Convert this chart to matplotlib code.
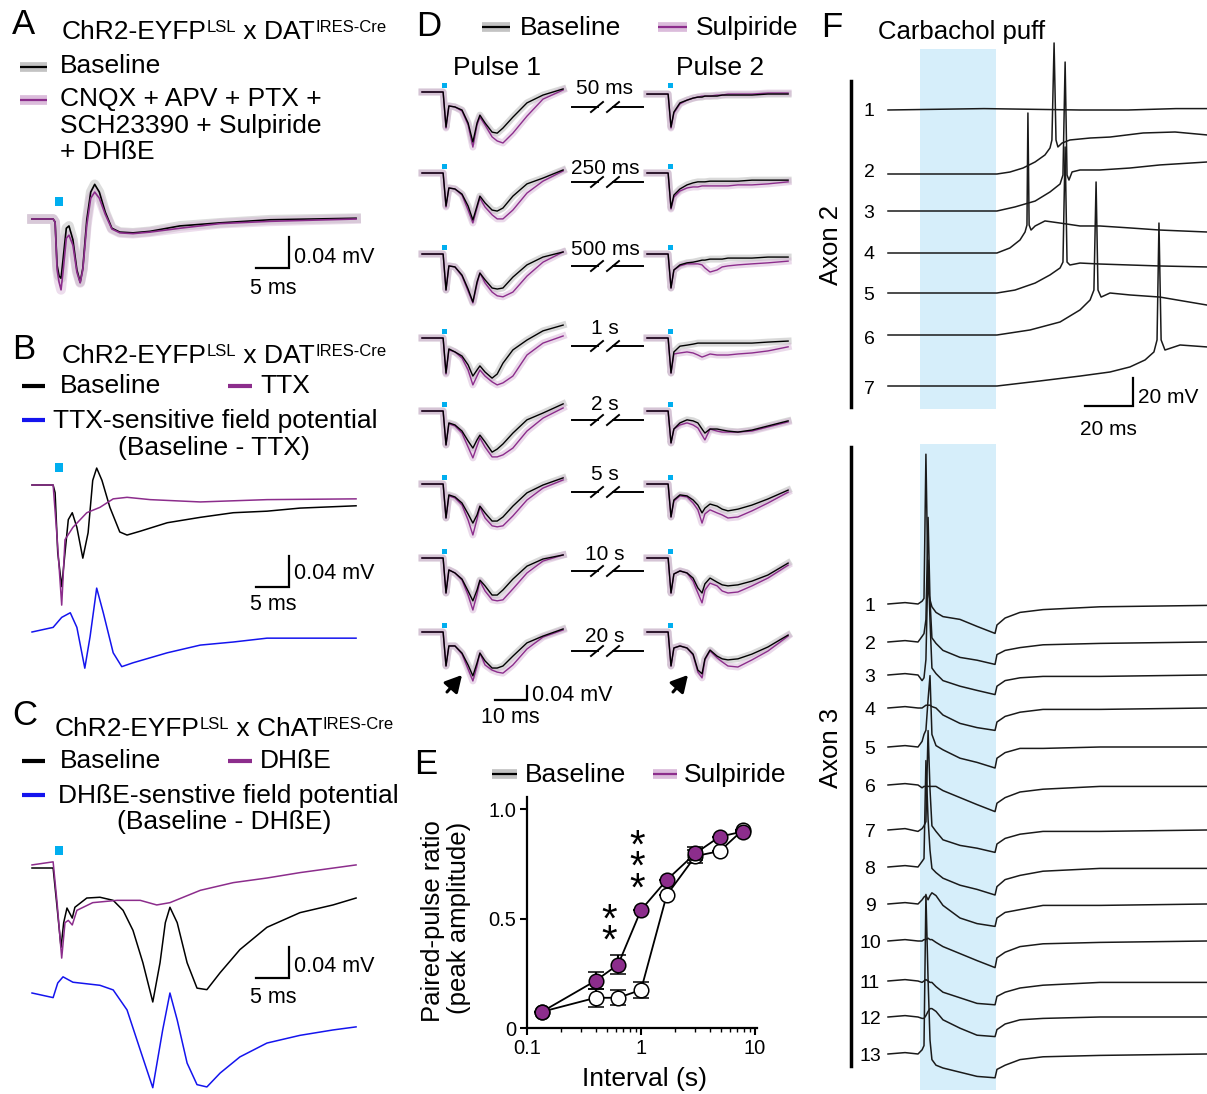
import matplotlib
matplotlib.use("Agg")
import matplotlib.pyplot as plt
from matplotlib.patches import Rectangle

# ======================= DATA =======================
# ---- Panel A (time ms, voltage mV) ----
a_t = [0, 3.2, 3.5, 3.8, 4.1, 4.4, 4.7, 5.2, 5.6, 6.2, 6.8, 7.3, 7.7, 8.3, 8.9, 9.5,
       10.2, 11.1, 12.1, 13.3, 15.3, 17.9, 22.4, 28.5, 36.1, 49.1]
a_baseline = [0, 0, -0.004, -0.060, -0.074, -0.077, -0.053, -0.012, -0.009, -0.027, -0.066,
              -0.082, -0.064, -0.001, 0.035, 0.045, 0.035, 0.009, -0.012, -0.017, -0.018,
              -0.016, -0.009, -0.005, -0.001, 0.001]
a_cocktail = [0, 0, -0.004, -0.066, -0.082, -0.092, -0.069, -0.025, -0.021, -0.034, -0.069,
              -0.083, -0.066, -0.008, 0.027, 0.035, 0.027, 0.006, -0.013, -0.018, -0.019,
              -0.017, -0.012, -0.006, -0.003, 0.0]

# ---- Panel B ----
b_t = [0, 3.2, 3.5, 3.9, 4.5, 5.0, 5.5, 6.1, 6.8, 7.7, 8.5, 9.2, 9.8, 10.6, 11.8, 13.3,
       14.4, 16.4, 20.5, 25.5, 30.5, 35.6, 40.6, 49.1]
b_baseline = [0, 0, -0.010, -0.088, -0.132, -0.088, -0.045, -0.036, -0.055, -0.095, -0.062,
              0.006, 0.022, 0.006, -0.029, -0.061, -0.065, -0.060, -0.049, -0.042, -0.036,
              -0.034, -0.030, -0.027]
b_ttx_t = [0, 3.2, 3.8, 4.5, 5.0, 6.2, 8.3, 10.3, 12.3, 14.4, 17.9, 25.5, 35.6, 49.1]
b_ttx = [0, 0, -0.068, -0.156, -0.071, -0.055, -0.036, -0.029, -0.018, -0.016, -0.019,
         -0.022, -0.019, -0.018]
b_diff_t = [0, 3.2, 4.5, 5.8, 6.8, 8.0, 8.8, 9.8, 10.8, 12.3, 13.6, 15.3, 20.5, 25.5, 30.5,
            35.6, 49.1]
b_diff = [0, 0.006, 0.019, 0.025, 0.006, -0.047, -0.006, 0.057, 0.025, -0.027, -0.045,
          -0.040, -0.027, -0.017, -0.013, -0.008, -0.008]

# ---- Panel C ----
c_t = [0, 3.2, 3.8, 4.4, 4.8, 5.3, 6.1, 6.5, 8.3, 10.3, 12.3, 13.8, 15.3, 16.8, 18.3, 19.4,
       20.2, 20.9, 22.0, 23.5, 25.0, 26.5, 28.5, 31.5, 35.6, 40.6, 45.6, 49.1]
c_baseline = [0, 0, -0.051, -0.103, -0.071, -0.052, -0.065, -0.051, -0.039, -0.038, -0.042,
              -0.055, -0.081, -0.123, -0.174, -0.123, -0.071, -0.051, -0.071, -0.123, -0.156,
              -0.158, -0.136, -0.106, -0.077, -0.058, -0.048, -0.039]
c_dhbe_t = [0, 3.2, 3.8, 4.5, 5.0, 5.5, 6.1, 6.8, 9.2, 12.9, 16.4, 18.9, 20.9, 25.5, 30.5,
            35.6, 40.6, 49.1]
c_dhbe = [0.004, 0.008, -0.045, -0.117, -0.071, -0.068, -0.074, -0.055, -0.045, -0.042,
          -0.042, -0.048, -0.045, -0.029, -0.019, -0.013, -0.006, 0.004]
c_diff_t = [0, 3.2, 3.9, 4.7, 6.2, 10.3, 12.3, 14.4, 16.4, 18.3, 19.8, 20.9, 22.0, 23.5,
            25.0, 26.5, 28.5, 31.5, 35.6, 40.6, 45.6, 49.1]
c_diff = [0, -0.006, 0.013, 0.021, 0.014, 0.010, 0.004, -0.022, -0.074, -0.123, -0.048, 0,
          -0.035, -0.091, -0.119, -0.122, -0.104, -0.083, -0.065, -0.055, -0.048, -0.044]

# ---- Panel D (time ms, voltage uV) ----
d_t = [0, 6.6, 7.5, 8.4, 10.3, 12.5, 14.4, 15.9, 17.2, 18.1, 19.7, 21.9, 23.5, 25.3, 28.4,
       32.8, 37.8, 44.1]
d_intervals = ["50 ms", "250 ms", "500 ms", "1 s", "2 s", "5 s", "10 s", "20 s"]
d_p1_baseline = [
    [0, 0, -103, -41, -44, -53, -91, -147, -91, -68, -91, -118, -121, -106, -74, -32, -9, 9],
    [0, 0, -97, -44, -47, -62, -97, -138, -97, -68, -88, -109, -112, -103, -68, -32, -15, 9],
    [0, 0, -106, -35, -38, -62, -103, -141, -82, -56, -76, -100, -103, -100, -68, -32, -9, 6],
    [0, 0, -103, -32, -41, -53, -79, -112, -94, -82, -100, -118, -106, -74, -35, -6, 21, 38],
    [0, 0, -100, -35, -41, -59, -88, -109, -85, -71, -91, -121, -112, -97, -65, -26, -6, 21],
    [0, 0, -100, -32, -38, -56, -88, -115, -91, -65, -85, -109, -109, -97, -65, -26, -3, 18],
    [0, 0, -103, -35, -44, -62, -97, -126, -94, -65, -82, -109, -109, -94, -62, -24, -3, 9],
    [0, 0, -100, -41, -41, -62, -97, -129, -91, -62, -85, -106, -106, -100, -71, -32, -12, 9],
]
d_p1_sulpiride = [
    [0, 0, -106, -41, -44, -56, -97, -162, -97, -74, -97, -132, -144, -150, -121, -71, -21, 6],
    [0, 0, -100, -44, -47, -65, -109, -147, -103, -74, -100, -123, -135, -135, -109, -59, -24, 6],
    [0, 0, -106, -35, -38, -65, -109, -144, -88, -56, -85, -112, -123, -126, -112, -65, -24, 6],
    [0, 0, -106, -35, -41, -59, -94, -138, -112, -94, -112, -129, -138, -132, -112, -50, -15, 6],
    [0, 0, -100, -38, -44, -65, -106, -138, -103, -79, -106, -135, -135, -129, -109, -59, -21, 9],
    [0, 0, -100, -35, -41, -62, -106, -150, -103, -68, -100, -123, -126, -123, -94, -47, -12, 12],
    [0, 0, -103, -35, -44, -65, -109, -153, -106, -68, -97, -123, -126, -123, -91, -44, -9, 9],
    [0, 0, -100, -41, -41, -65, -109, -144, -100, -62, -97, -112, -118, -121, -97, -50, -15, 6],
]
d_p2_baseline = [
    [-6, -6, -103, -59, -32, -24, -18, -15, -15, -12, -12, -12, -9, -9, -9, -9, -6, -6],
    [0, 0, -103, -65, -47, -35, -29, -26, -26, -26, -24, -24, -24, -24, -24, -21, -21, -21],
    [0, 0, -100, -47, -32, -26, -24, -21, -18, -18, -15, -15, -15, -12, -12, -12, -9, -9],
    [0, 0, -103, -41, -24, -21, -18, -15, -15, -15, -15, -15, -15, -15, -15, -15, -12, -9],
    [0, 0, -94, -53, -35, -26, -29, -35, -53, -65, -53, -53, -56, -59, -62, -56, -44, -29],
    [0, 0, -97, -47, -32, -35, -47, -62, -85, -71, -59, -65, -74, -79, -74, -62, -44, -18],
    [0, 0, -103, -47, -38, -44, -59, -88, -103, -76, -59, -71, -79, -82, -79, -68, -50, -15],
    [0, 0, -100, -47, -41, -47, -65, -112, -123, -79, -53, -71, -79, -82, -79, -65, -44, -9],
]
d_p2_sulpiride = [
    [-6, -6, -106, -62, -35, -24, -18, -15, -12, -12, -12, -9, -9, -6, -6, -6, -3, -3],
    [0, 0, -106, -71, -53, -44, -41, -41, -38, -38, -38, -38, -38, -38, -35, -35, -32, -26],
    [0, 0, -100, -47, -35, -29, -29, -29, -32, -41, -53, -47, -38, -35, -32, -29, -26, -21],
    [0, 0, -103, -47, -44, -41, -44, -50, -56, -53, -47, -50, -50, -50, -47, -44, -38, -26],
    [0, 0, -94, -53, -41, -35, -41, -50, -71, -85, -53, -59, -62, -62, -62, -59, -47, -32],
    [0, 0, -97, -50, -35, -38, -56, -76, -115, -88, -76, -85, -91, -100, -97, -79, -56, -24],
    [0, 0, -103, -47, -38, -44, -68, -103, -132, -94, -74, -82, -97, -103, -100, -82, -59, -21],
    [0, 0, -100, -47, -41, -47, -68, -118, -135, -82, -56, -76, -88, -100, -103, -82, -56, -12],
]

# ---- Panel E ----
e_interval = [0.135, 0.40, 0.63, 1.0, 1.68, 3.0, 4.9, 7.8]
e_ppr_baseline = [0.074, 0.138, 0.138, 0.174, 0.607, 0.785, 0.808, 0.904]
e_sem_baseline = [0.0, 0.04, 0.035, 0.035, 0.0, 0.03, 0.0, 0.0]
e_ppr_sulpiride = [0.074, 0.216, 0.290, 0.539, 0.676, 0.798, 0.874, 0.897]
e_sem_sulpiride = [0.0, 0.04, 0.045, 0.0, 0.0, 0.03, 0.0, 0.0]

# ---- Panel F, axon 2 (time ms, voltage mV) ----
f2_t = [
    [0, 40, 80, 100, 120, 132.9],
    [0, 45.4, 50.8, 56.3, 61.3, 65.4, 67.5, 68.3, 69.2, 70.0, 70.8, 72.5, 75.8, 84.2, 92.5, 106.3, 119.6, 132.9],
    [0, 45.4, 52.9, 61.3, 67.5, 71.7, 72.9, 73.8, 74.6, 75.4, 76.7, 80.0, 88.3, 100.8, 113.3, 132.9],
    [0, 45.4, 50.8, 55.0, 57.1, 57.9, 58.3, 58.8, 59.6, 61.3, 65.4, 71.7, 80.0, 88.3, 100.8, 113.3, 132.9],
    [0, 45.4, 52.9, 61.3, 67.5, 71.7, 72.9, 73.8, 74.6, 75.8, 80.0, 88.3, 100.8, 113.3, 132.9],
    [0, 45.4, 59.2, 71.7, 80.0, 84.2, 85.8, 86.7, 87.5, 88.8, 92.5, 100.8, 113.3, 132.9],
    [0, 45.4, 63.3, 80.0, 92.5, 100.8, 107.1, 110.8, 112.1, 112.9, 113.8, 115.4, 121.7, 132.9],
]
f2_v = [
    [0, 1, 0, 0, 1, 1],
    [0, 0, 1.4, 4.3, 8.6, 13.6, 18.6, 24.3, 93.6, 24.3, 19.3, 22.1, 24.3, 25.7, 26.4, 29.3, 30, 27.9],
    [0, 0, 2.9, 7.1, 13.6, 19.3, 25.7, 106.4, 25.7, 22.1, 27.9, 29.3, 29.3, 30.7, 32.9, 35.0],
    [0, 0, 3.6, 9.3, 15.0, 20.0, 100.0, 20.0, 16.4, 19.3, 22.9, 21.4, 19.3, 19.3, 17.9, 16.4, 15.0],
    [0, 0, 2.1, 7.1, 12.9, 17.9, 22.1, 104.3, 22.1, 20.0, 21.4, 20.7, 20.0, 19.3, 18.6],
    [0, 0, 3.6, 9.3, 17.9, 25.0, 32.1, 109.3, 32.1, 27.1, 30.0, 28.6, 27.1, 21.4],
    [0, 0, 3.6, 7.1, 10.0, 13.6, 18.6, 24.3, 32.9, 116.4, 32.9, 25.7, 29.3, 27.9],
]

# ---- Panel F, axon 3 ----
f3_t = [0, 7.1, 12.5, 14.2, 15.0, 15.8, 16.7, 17.5, 18.3, 20.0, 22.9, 30.0, 37.1, 44.6,
        45.4, 48.8, 55.0, 64.6, 88.3, 132.9]
f3_v = [
    [0, 1, 0, 2, 4, 107, 10, 3, -2, -6, -9, -11, -16, -21, -15, -10, -6, -4, -2, -1],
    [0, 1, 0, 4, 6, 16, 89, 30, 3, -1, -6, -11, -13, -16, -9, -6, -4, -2, -1, 0],
    [0, 1, 0, -4, -2, 11, 82, 39, 5, 1, -4, -8, -11, -14, -8, -4, -2, -1, -1, 0],
    [0, 1, 0, 0, 1, 2, 2, 2, 1, 0, -5, -11, -14, -16, -10, -6, -3, -1, -1, 0],
    [0, 1, 0, 4, 9, 12, 34, 51, 9, 1, -2, -8, -11, -15, -8, -4, -1, -1, 0, 0],
    [0, 1, 0, -2, -1, -1, -1, -1, -1, -1, -4, -9, -14, -19, -13, -9, -5, -3, -1, -1],
    [0, 1, -1, 1, 3, 6, 71, 29, 3, -1, -7, -11, -13, -16, -10, -6, -3, -1, -1, 0],
    [0, 1, 0, 4, 6, 76, 34, 12, -1, -4, -8, -13, -16, -20, -14, -9, -6, -3, -1, -1],
    [0, 1, 0, 3, 5, 6, 3, 6, 8, 6, -1, -10, -14, -16, -10, -6, -4, -1, -1, 0],
    [0, 1, 0, 0, 1, 1, 2, 1, 1, -1, -4, -9, -14, -19, -12, -8, -4, -2, -1, 0],
    [0, 1, 0, -1, 0, 1, 0, -1, -1, -4, -8, -12, -16, -17, -11, -8, -5, -3, -1, -1],
    [0, 1, 0, -1, -1, 1, 4, 6, 6, 4, -2, -8, -13, -14, -9, -5, -2, -1, 0, 0],
    [0, 1, 0, 3, 6, 114, 53, 10, -4, -8, -10, -13, -16, -17, -11, -8, -4, -2, -1, 0],
]
puff_window = (13.3, 45.0)   # ms

# ======================= STYLE / LAYOUT =======================
W, H = 1207, 1094
PURPLE = "#8C2D8C"
BLUE = "#1414EE"
CYAN = "#00AEEF"
GRAYBAND = "#B4B4B4"
PURPLEBAND = "#D2ACD2"
PUFF = "#D6EEFA"
FS = 19        # main label size

plt.rcParams["font.family"] = ["Liberation Sans", "DejaVu Sans"]
fig = plt.figure(figsize=(W / 100, H / 100), dpi=100)
ov = fig.add_axes([0, 0, 1, 1], zorder=10)
ov.set_xlim(0, W)
ov.set_ylim(H, 0)
ov.set_axis_off()
renderer = fig.canvas.get_renderer()


def T(x, y, s, size=FS, ha="left", **kw):
    em = size * 100 / 72
    return ov.text(x, y + 0.358 * em, s, fontsize=size, ha=ha, va="baseline", **kw)


def rich(x, y, parts, size=FS, supsize=12):
    em = size * 100 / 72
    base = y + 0.358 * em
    for s, sup in parts:
        if sup:
            t = ov.text(x, base - 0.28 * em, s, fontsize=supsize, va="baseline", ha="left")
        else:
            t = ov.text(x, base, s, fontsize=size, va="baseline", ha="left")
        x += t.get_window_extent(renderer=renderer).width


def trace_ax(x0, y0, x1, y1, ox, oy, sx, sy):
    ax = fig.add_axes([x0 / W, 1 - y1 / H, (x1 - x0) / W, (y1 - y0) / H])
    ax.set_xlim((x0 - ox) / sx, (x1 - ox) / sx)
    ax.set_ylim((oy - y1) / sy, (oy - y0) / sy)
    ax.set_axis_off()
    return ax


def leg_line(x0, x1, y, color, band=None, lw=3.0):
    if band:
        ov.plot([x0, x1], [y, y], color=band, lw=7, solid_capstyle="butt", alpha=0.8)
        ov.plot([x0, x1], [y, y], color=color, lw=1.6, solid_capstyle="butt")
    else:
        ov.plot([x0, x1], [y, y], color=color, lw=lw, solid_capstyle="butt")


def stim(x, y, w=8, h=9):
    ov.add_patch(Rectangle((x, y), w, h, color=CYAN, lw=0))


def scalebar(ax, x0, y0, dx, dy):
    ax.plot([x0, x0 + dx, x0 + dx], [y0, y0, y0 + dy], color="k", lw=1.6,
            solid_joinstyle="miter", clip_on=False)


# panel letters
for L, (x, y) in zip("ABCDEF", [(12, 22), (12, 347), (12, 713), (416, 24), (414, 762), (821, 25)]):
    T(x, y, L, size=25)

# ======================= PANEL A =======================
rich(62, 30, [("ChR2-EYFP", 0), ("LSL", 1), (" x DAT", 0), ("IRES-Cre", 1)])
leg_line(20, 47, 67, "k", band=GRAYBAND)
T(60, 64, "Baseline")
leg_line(20, 47, 100, PURPLE, band=PURPLEBAND)
T(60, 97, "CNQX + APV + PTX +")
T(60, 124, "SCH23390 + Sulpiride")
T(60, 150, "+ DH\u00dfE")
axA = trace_ax(10, 150, 380, 320, 32, 219, 6.6, 770)
axA.plot(a_t, a_baseline, color=GRAYBAND, lw=7, alpha=0.45)
axA.plot(a_t, a_cocktail, color=PURPLEBAND, lw=7, alpha=0.4)
axA.plot(a_t, a_baseline, color="k", lw=1.2)
axA.plot(a_t, a_cocktail, color=PURPLE, lw=1.2)
stim(55, 197)
scalebar(axA, 33.9, -0.064, 5, 0.04)
T(294, 255, "0.04 mV", size=15.5)
T(273, 286, "5 ms", size=15.5, ha="center")

# ======================= PANEL B =======================
rich(62, 354, [("ChR2-EYFP", 0), ("LSL", 1), (" x DAT", 0), ("IRES-Cre", 1)])
leg_line(22, 45, 386, "k")
T(60, 384, "Baseline")
leg_line(228, 252, 386, PURPLE)
T(260, 384, "TTX")
leg_line(22, 45, 420, BLUE)
T(53, 419, "TTX-sensitive field potential")
T(118, 446, "(Baseline - TTX)")
axB = trace_ax(10, 455, 380, 690, 32, 485, 6.6, 770)
axB.plot(b_t, b_baseline, color="k", lw=1.1)
axB.plot(b_ttx_t, b_ttx, color=PURPLE, lw=1.1)
b_off = -(632 - 485) / 770
axB.plot(b_diff_t, [v + b_off for v in b_diff], color=BLUE, lw=1.1)
stim(55, 463)
scalebar(axB, 33.9, -0.132, 5, 0.04)
T(294, 571, "0.04 mV", size=15.5)
T(273, 602, "5 ms", size=15.5, ha="center")

# ======================= PANEL C =======================
rich(55, 727, [("ChR2-EYFP", 0), ("LSL", 1), (" x ChAT", 0), ("IRES-Cre", 1)])
leg_line(22, 45, 761, "k")
T(60, 759, "Baseline")
leg_line(228, 252, 761, PURPLE)
T(260, 759, "DH\u00dfE")
leg_line(22, 45, 795, BLUE)
T(58, 794, "DH\u00dfE-senstive field potential")
T(117, 820, "(Baseline - DH\u00dfE)")
axC = trace_ax(10, 835, 380, 1094, 32, 868, 6.6, 770)
axC.plot(c_t, c_baseline, color="k", lw=1.1)
axC.plot(c_dhbe_t, c_dhbe, color=PURPLE, lw=1.1)
c_off = -(993 - 868) / 770
axC.plot(c_diff_t, [v + c_off for v in c_diff], color=BLUE, lw=1.1)
stim(55, 846)
scalebar(axC, 33.9, -0.143, 5, 0.04)
T(294, 964, "0.04 mV", size=15.5)
T(273, 995, "5 ms", size=15.5, ha="center")

# ======================= PANEL D =======================
leg_line(482, 510, 27, "k", band=GRAYBAND)
T(520, 26, "Baseline")
leg_line(658, 687, 27, PURPLE, band=PURPLEBAND)
T(696, 26, "Sulpiride")
T(497, 66, "Pulse 1", ha="center")
T(720, 66, "Pulse 2", ha="center")

d_rows_px = [92, 173, 254, 338, 411, 484, 558, 632]
d_label_px = [87, 167, 248, 327, 403, 473, 553, 635]
d_break_px = [107, 182, 266, 346, 420, 492, 571, 651]
axD1 = trace_ax(412, 60, 575, 720, 422, 92, 3.2, 0.34)
axD2 = trace_ax(637, 60, 800, 720, 647, 92, 3.2, 0.34)
for r in range(8):
    off = -(d_rows_px[r] - 92) / 0.34
    for ax, base, sulp in ((axD1, d_p1_baseline[r], d_p1_sulpiride[r]),
                           (axD2, d_p2_baseline[r], d_p2_sulpiride[r])):
        yb = [v + off for v in base]
        ys = [v + off for v in sulp]
        ax.plot(d_t, yb, color=GRAYBAND, lw=5, alpha=0.5)
        ax.plot(d_t, ys, color=PURPLEBAND, lw=5, alpha=0.45)
        ax.plot(d_t, ys, color=PURPLE, lw=1.0)
        ax.plot(d_t, yb, color="k", lw=1.0)
    stim(442, d_rows_px[r] - 9, 5, 5)
    stim(668, d_rows_px[r] - 9, 5, 5)
    T(605, d_label_px[r], d_intervals[r], size=15, ha="center")
    y = d_break_px[r]
    ov.plot([572, 598], [y, y], color="k", lw=1.4)
    ov.plot([613, 643], [y, y], color="k", lw=1.4)
    ov.plot([591, 603], [y + 5, y - 5], color="k", lw=1.4)
    ov.plot([607, 619], [y + 5, y - 5], color="k", lw=1.4)
for (xt, yt), (xs, ys) in (((462, 675), (447, 692)), ((688, 675), (673, 692))):
    ov.annotate("", xy=(xt, yt), xytext=(xs, ys),
                arrowprops=dict(arrowstyle="-|>,head_length=0.55,head_width=0.3",
                                color="k", lw=2.2, shrinkA=0, shrinkB=0, mutation_scale=18))
scalebar(axD1, (495 - 422) / 3.2, -(700 - 92) / 0.34, 10, 40)
T(532, 693, "0.04 mV", size=15.5)
T(510, 715, "10 ms", size=15.5, ha="center")

# ======================= PANEL E =======================
leg_line(492, 517, 774, "k", band=GRAYBAND)
T(525, 773, "Baseline")
leg_line(653, 677, 774, PURPLE, band=PURPLEBAND)
T(684, 773, "Sulpiride")
axE = fig.add_axes([527 / W, 1 - 1028 / H, (757 - 527) / W, (1028 - 797) / H])
axE.set_xscale("log")
axE.plot(e_interval, e_ppr_baseline, color="k", lw=1.3, zorder=2)
axE.plot(e_interval, e_ppr_sulpiride, color="k", lw=1.3, zorder=2)
axE.errorbar(e_interval, e_ppr_baseline, yerr=e_sem_baseline, fmt="o", ms=10.5, mfc="white",
             mec="k", mew=1.1, ecolor="k", elinewidth=1.5, capsize=5.5, capthick=1.5, zorder=3)
axE.errorbar(e_interval, e_ppr_sulpiride, yerr=e_sem_sulpiride, fmt="o", ms=10.5, mfc=PURPLE,
             mec="k", mew=1.1, ecolor="k", elinewidth=1.5, capsize=5.5, capthick=1.5, zorder=4)
axE.set_xlim(0.1, 10.4)
axE.set_ylim(0, 1.055)
for s in ("top", "right"):
    axE.spines[s].set_visible(False)
for s in ("left", "bottom"):
    axE.spines[s].set_linewidth(1.6)
axE.set_yticks([0, 0.5, 1.0])
axE.set_yticklabels(["0", "0.5", "1.0"])
axE.set_xticks([0.1, 1, 10])
axE.set_xticklabels(["0.1", "1", "10"])
axE.tick_params(which="major", length=5, width=1.5, labelsize=14.5, pad=3)
axE.tick_params(which="minor", length=3, width=1.0)
axE.patch.set_alpha(0)
ov.text(433, 921, "Paired-pulse ratio", rotation=90, ha="center", va="center", fontsize=18.5)
ov.text(459, 918, "(peak amplitude)", rotation=90, ha="center", va="center", fontsize=18.5)
T(644, 1077, "Interval (s)", ha="center")
ov.text(609, 931, "*\n*", fontsize=29, ha="center", va="center", linespacing=0.44)
ov.text(637, 868, "*\n*\n*", fontsize=29, ha="center", va="center", linespacing=0.44)

# ======================= PANEL F =======================
T(878, 30, "Carbachol puff", size=18.5)
f2_rows_px = [110, 174, 211, 253, 293, 335, 386]
f2_lab_px = [109, 170, 211, 252, 293, 337, 387]
axF2 = trace_ax(888, 49, 1207, 409, 888, 110, 2.4, 1.4)
axF2.axvspan(*puff_window, color=PUFF, lw=0, zorder=0)
for i in range(7):
    off = (110 - f2_rows_px[i]) / 1.4
    axF2.plot(f2_t[i], [v + off for v in f2_v[i]], color="#1a1a1a", lw=1.1, clip_on=False)
    T(869, f2_lab_px[i], str(i + 1), size=14, ha="center")
ov.plot([851, 851], [81, 407], color="k", lw=2.5)
ov.text(831, 245, "Axon 2", rotation=90, ha="center", va="center", fontsize=18.5)
scalebar(axF2, (1085 - 888) / 2.4, (110 - 406) / 1.4, 20, 20)
T(1138, 396, "20 mV", size=15)
T(1108, 428, "20 ms", size=15, ha="center")

f3_rows_px = [604, 642, 675, 708, 747, 785, 830, 867, 904, 941, 981, 1017, 1054]
axF3 = trace_ax(888, 444, 1207, 1090, 888, 604, 2.4, 1.4)
axF3.axvspan(*puff_window, color=PUFF, lw=0, zorder=0)
for i in range(13):
    off = (604 - f3_rows_px[i]) / 1.4
    axF3.plot(f3_t, [v + off for v in f3_v[i]], color="#1a1a1a", lw=1.1, clip_on=False)
    T(870, f3_rows_px[i], str(i + 1), size=14, ha="center")
ov.plot([851, 851], [447, 1066], color="k", lw=2.5)
ov.text(831, 748, "Axon 3", rotation=90, ha="center", va="center", fontsize=18.5)

fig.savefig("out.png", dpi=100)
